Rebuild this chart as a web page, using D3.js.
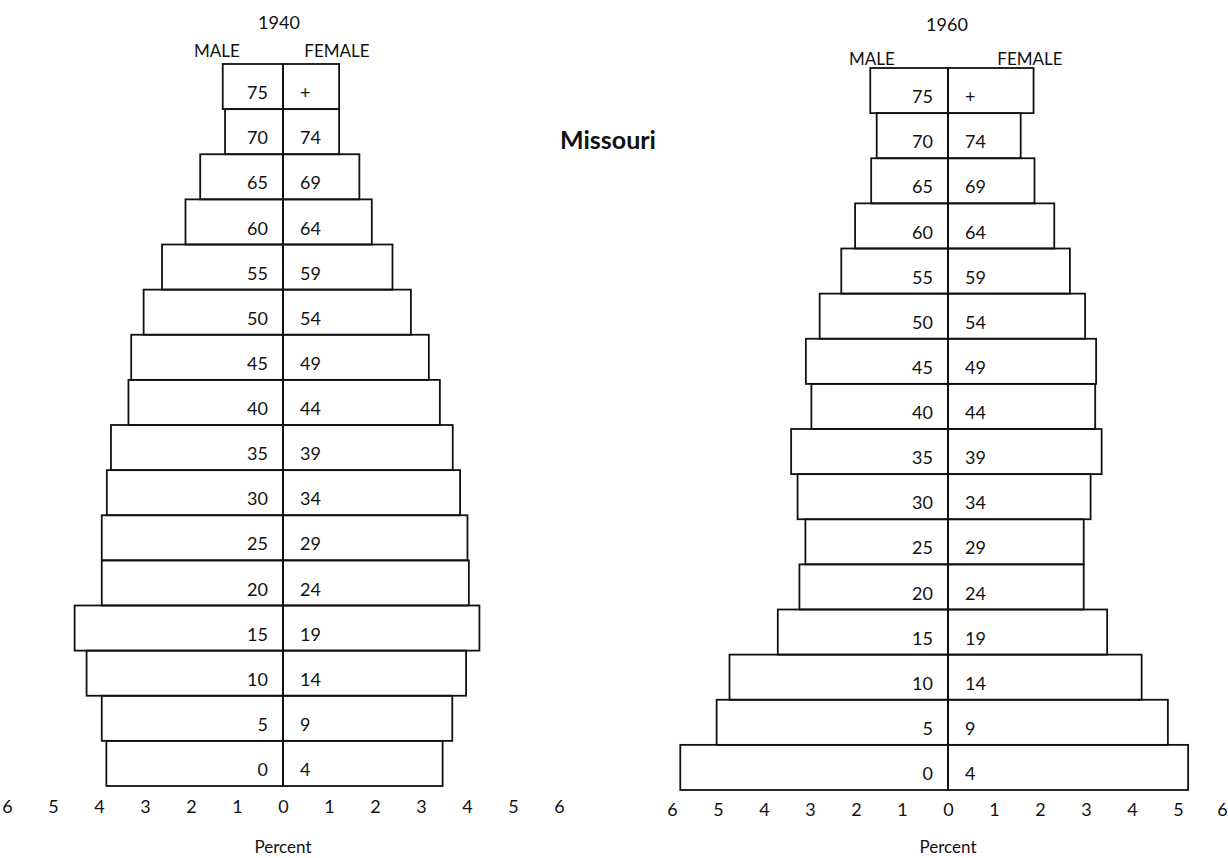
<!DOCTYPE html>
<html>
<head>
<meta charset="utf-8">
<script src="https://cdn.jsdelivr.net/npm/d3@7"></script>
<style>
  html, body { margin: 0; padding: 0; background: #fff; }
  svg { display: block; }
  text { font-family: "Lato", "DejaVu Sans", sans-serif; fill: #111; }
</style>
</head>
<body>
<svg id="chart" width="1228" height="858"></svg>
<script>
// ---- data (percent of total population) ----
const ageGroups = ["0-4","5-9","10-14","15-19","20-24","25-29","30-34","35-39","40-44","45-49","50-54","55-59","60-64","65-69","70-74","75+"];
const maleLabels = ["0","5","10","15","20","25","30","35","40","45","50","55","60","65","70","75"];
const femaleLabels = ["4","9","14","19","24","29","34","39","44","49","54","59","64","69","74","+"];

const male1940   = [3.84, 3.94, 4.27, 4.53, 3.94, 3.94, 3.83, 3.74, 3.36, 3.30, 3.03, 2.63, 2.12, 1.80, 1.26, 1.31];
const female1940 = [3.47, 3.68, 3.98, 4.27, 4.04, 4.01, 3.85, 3.69, 3.41, 3.17, 2.78, 2.38, 1.93, 1.66, 1.22, 1.22];

const male1960   = [5.82, 5.03, 4.75, 3.70, 3.23, 3.10, 3.27, 3.41, 2.97, 3.09, 2.79, 2.32, 2.02, 1.67, 1.55, 1.69];
const female1960 = [5.22, 4.78, 4.21, 3.46, 2.95, 2.95, 3.10, 3.34, 3.20, 3.22, 2.98, 2.65, 2.31, 1.88, 1.58, 1.86];

const tickValues = [-6,-5,-4,-3,-2,-1,0,1,2,3,4,5,6];

const title = "Missouri";
const axisTitle = "Percent";
const sexLabels = ["MALE", "FEMALE"];

// ---- drawing ----
const W = 1228;
const svg = d3.select("#chart");

function pyramid(cfg, year, male, female) {
  const g = svg.append("g");
  const x = d3.scaleLinear().domain([-6, 6]).range([cfg.cx - 6 * cfg.k, cfg.cx + 6 * cfg.k]);
  const y = d3.scaleBand().domain(ageGroups.slice().reverse()).range([cfg.top, cfg.bottom]).padding(0);

  const rows = ageGroups.map((a, i) => ({ age: a, m: male[i], f: female[i], ml: maleLabels[i], fl: femaleLabels[i] }));

  g.selectAll("rect.male").data(rows).join("rect")
    .attr("class", "male")
    .attr("x", d => x(-d.m))
    .attr("y", d => y(d.age))
    .attr("width", d => x(0) - x(-d.m))
    .attr("height", y.bandwidth())
    .attr("fill", "none").attr("stroke", "#111").attr("stroke-width", 1.8);

  g.selectAll("rect.female").data(rows).join("rect")
    .attr("class", "female")
    .attr("x", x(0))
    .attr("y", d => y(d.age))
    .attr("width", d => x(d.f) - x(0))
    .attr("height", y.bandwidth())
    .attr("fill", "none").attr("stroke", "#111").attr("stroke-width", 1.8);

  g.append("line")
    .attr("x1", x(0)).attr("x2", x(0))
    .attr("y1", cfg.top).attr("y2", cfg.bottom)
    .attr("stroke", "#111").attr("stroke-width", 1.8);

  g.selectAll("text.ml").data(rows).join("text")
    .attr("class", "ml")
    .attr("x", x(0) - 15)
    .attr("y", d => y(d.age) + y.bandwidth() - 10)
    .attr("text-anchor", "end")
    .attr("font-size", 18)
    .text(d => d.ml);

  g.selectAll("text.fl").data(rows).join("text")
    .attr("class", "fl")
    .attr("x", x(0) + 17)
    .attr("y", d => y(d.age) + y.bandwidth() - 10)
    .attr("text-anchor", "start")
    .attr("font-size", 18)
    .text(d => d.fl);

  const axis = d3.axisBottom(x).tickValues(tickValues).tickSize(0).tickPadding(0)
    .tickFormat(d => Math.abs(d));
  const ag = g.append("g").attr("transform", `translate(0,${cfg.tickY})`).call(axis);
  ag.select(".domain").remove();
  ag.selectAll("text").attr("font-size", 18).attr("font-family", "Lato, 'DejaVu Sans', sans-serif").attr("fill", "#111").attr("dy", 0)
    .attr("dx", d => Math.min(0, (W - 6) - x(d)));

  g.append("text").attr("x", cfg.yearX).attr("y", cfg.yearY)
    .attr("text-anchor", "middle").attr("font-size", 18).text(year);
  g.append("text").attr("x", cfg.maleX).attr("y", cfg.sexY)
    .attr("text-anchor", "middle").attr("font-size", 17).text(sexLabels[0]);
  g.append("text").attr("x", cfg.femaleX).attr("y", cfg.sexY)
    .attr("text-anchor", "middle").attr("font-size", 17).text(sexLabels[1]);
  g.append("text").attr("x", x(0)).attr("y", cfg.percentY)
    .attr("text-anchor", "middle").attr("font-size", 17).text(axisTitle);
}

pyramid({ cx: 283, k: 46, top: 64, bottom: 786, tickY: 813, percentY: 853,
          yearX: 279, yearY: 29, maleX: 217, femaleX: 337, sexY: 57 },
        "1940", male1940, female1940);

pyramid({ cx: 948, k: 46, top: 68, bottom: 790, tickY: 816, percentY: 853,
          yearX: 947, yearY: 31, maleX: 872, femaleX: 1030, sexY: 65 },
        "1960", male1960, female1960);

svg.append("text").attr("x", 608).attr("y", 149)
  .attr("text-anchor", "middle").attr("font-size", 25).attr("font-weight", "bold")
  .text(title);
</script>
</body>
</html>
